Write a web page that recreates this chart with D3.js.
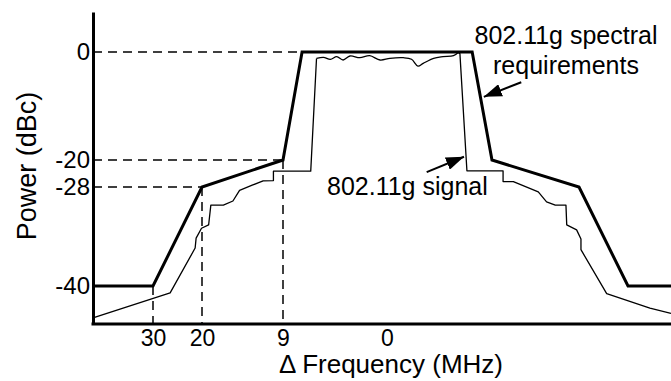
<!DOCTYPE html>
<html>
<head>
<meta charset="utf-8">
<script src="https://cdnjs.cloudflare.com/ajax/libs/d3/7.8.5/d3.min.js"></script>
<style>
    html, body { margin: 0; padding: 0; background: #fff; }
    svg { display: block; font-family: "Liberation Sans", Arial, Helvetica, sans-serif; }
</style>
</head>
<body>
<svg id="chart" width="671" height="381"></svg>
<script>
    // spectral mask (MHz offset, dBc)
    var maskFreq = [-40, -30, -20, -9, -7.35, 7.3, 9, 20, 30, 40];
    var maskPower = [-40, -40, -28, -20, 0, 0, -20, -28, -40, -40];

    // measured signal, left skirt
    var sigLeftFreq = [-40, -26.5, -21.4, -21.2, -20.1, -19.1, -18.8, -17.1, -15.8, -14.9, -13.1, -11.7, -10.3, -10.3, -6.6, -6.1];
    var sigLeftPower = [-44.2, -40.9, -35.4, -34.2, -33.0, -32.6, -30.2, -30.2, -29.7, -28.4, -27.4, -26.2, -26.1, -23.3, -23.3, -1.2];

    // measured signal, in-band ripple
    var sigTopFreq = [-6.1, -5.5, -4.9, -4.35, -3.8, -3.2, -2.35, -1.5, -0.6, 0.25, 1.4, 2.1, 2.65, 3.1, 4.0, 4.8, 5.7, 6.1];
    var sigTopPower = [-1.2, -0.98, -1.35, -0.87, -1.48, -0.74, -1.06, -0.69, -1.48, -1.17, -1.06, -1.35, -2.6, -2.1, -1.17, -0.87, -0.69, -0.1];

    // measured signal, right skirt
    var sigRightFreq = [6.1, 6.25, 6.85, 10.4, 10.4, 11.7, 14.85, 15.9, 17.0, 18.35, 18.45, 19.7, 20.4, 20.4, 25.65, 35.1, 40];
    var sigRightPower = [-0.1, -0.3, -23.2, -23.2, -26.4, -26.4, -28.6, -29.8, -30.2, -30.2, -32.6, -33.2, -34.3, -35.6, -41.0, -42.9, -43.6];

    var xTickValues = [-30, -20, -9, 0];
    var yTickValues = [0, -20, -28, -40];

    // annotation arrows: [tailFreq, tailPower, tipFreq, tipPower]
    var maskArrow = [12.7, -5.6, 8.3, -8.3];
    var signalArrow = [3.4, -23.6, 6.6, -19.4];

    var svg = d3.select('#chart');

    // the drawing is schematic, so both scales are piecewise linear
    var x = d3.scaleLinear()
        .domain([-40, -30, -20, -9, 0, 9, 20, 30, 40])
        .range([93, 153, 202, 283, 387, 492, 579, 628, 671]);
    var y = d3.scaleLinear()
        .domain([-45, -40, -28, -20, 0, 7.5])
        .range([324, 286, 187, 160, 52, 12]);

    function pts(fs, ps) {
        return fs.map(function (f, i) { return [f, ps[i]]; });
    }

    var line = d3.line()
        .x(function (d) { return x(d[0]); })
        .y(function (d) { return y(d[1]); });
    var curve = d3.line()
        .curve(d3.curveCatmullRom.alpha(0.5))
        .x(function (d) { return x(d[0]); })
        .y(function (d) { return y(d[1]); });

    // dashed guides from axes to the left-side mask corners
    var guides = svg.append('g')
        .attr('stroke', '#000')
        .attr('stroke-width', 1.5)
        .attr('stroke-dasharray', '9,6')
        .attr('fill', 'none');
    [[0, -7.35], [-20, -9], [-28, -20]].forEach(function (g) {
        guides.append('line')
            .attr('x1', x(-40)).attr('x2', x(g[1]))
            .attr('y1', y(g[0])).attr('y2', y(g[0]));
    });
    [[-30, -40], [-20, -28], [-9, -20]].forEach(function (g) {
        guides.append('line')
            .attr('x1', x(g[0])).attr('x2', x(g[0]))
            .attr('y1', y(g[1])).attr('y2', y(-45));
    });

    // signal
    var sig = svg.append('g')
        .attr('fill', 'none')
        .attr('stroke', '#000')
        .attr('stroke-width', 1.3)
        .attr('stroke-linejoin', 'round');
    sig.append('path').attr('d', line(pts(sigLeftFreq, sigLeftPower)));
    sig.append('path').attr('d', curve(pts(sigTopFreq, sigTopPower)));
    sig.append('path').attr('d', line(pts(sigRightFreq, sigRightPower)));

    // mask
    svg.append('path')
        .attr('d', line(pts(maskFreq, maskPower)))
        .attr('fill', 'none')
        .attr('stroke', '#000')
        .attr('stroke-width', 3)
        .attr('stroke-linejoin', 'miter');

    // axes
    var yAxis = svg.append('g')
        .attr('transform', 'translate(' + x(-40) + ',0)')
        .call(d3.axisLeft(y).tickValues(yTickValues).tickSize(0).tickSizeOuter(0).tickPadding(3)
            .tickFormat(function (d) { return String(d); }));
    yAxis.selectAll('text').attr('font-size', 24).attr('font-family', null).attr('fill', '#000');
    yAxis.select('.domain').attr('stroke-width', 3);

    var xAxis = svg.append('g')
        .attr('transform', 'translate(0,' + y(-45) + ')')
        .call(d3.axisBottom(x).tickValues(xTickValues).tickSize(0).tickSizeOuter(0).tickPadding(6)
            .tickFormat(function (d) { return String(Math.abs(d)); }));
    xAxis.selectAll('text').attr('font-size', 23).attr('font-family', null).attr('fill', '#000');
    xAxis.select('.domain').attr('stroke-width', 3);
    xAxis.select('.domain').attr('d', 'M' + (x(-40) - 1.5) + ',0H' + x(40));

    svg.append('text')
        .attr('x', 391)
        .attr('y', 373)
        .attr('text-anchor', 'middle')
        .attr('font-size', 26)
        .text('\u0394 Frequency (MHz)');

    svg.append('text')
        .attr('transform', 'translate(36,166) rotate(-90)')
        .attr('text-anchor', 'middle')
        .attr('font-size', 27)
        .text('Power (dBc)');

    // annotations
    svg.append('defs').append('marker')
        .attr('id', 'head')
        .attr('markerUnits', 'userSpaceOnUse')
        .attr('viewBox', '0 0 18 13')
        .attr('markerWidth', 18)
        .attr('markerHeight', 13)
        .attr('refX', 18)
        .attr('refY', 6.5)
        .attr('orient', 'auto')
        .append('path')
        .attr('d', 'M0,0L18,6.5L0,13Z')
        .attr('fill', '#000');

    [maskArrow, signalArrow].forEach(function (a) {
        svg.append('line')
            .attr('x1', x(a[0])).attr('y1', y(a[1]))
            .attr('x2', x(a[2])).attr('y2', y(a[3]))
            .attr('stroke', '#000')
            .attr('stroke-width', 2)
            .attr('marker-end', 'url(#head)');
    });

    svg.append('text')
        .attr('x', 566).attr('y', 44)
        .attr('text-anchor', 'middle')
        .attr('font-size', 25)
        .text('802.11g spectral');
    svg.append('text')
        .attr('x', 566).attr('y', 74)
        .attr('text-anchor', 'middle')
        .attr('font-size', 25)
        .text('requirements');
    svg.append('text')
        .attr('x', 327).attr('y', 195)
        .attr('font-size', 25)
        .text('802.11g signal');
</script>
</body>
</html>
